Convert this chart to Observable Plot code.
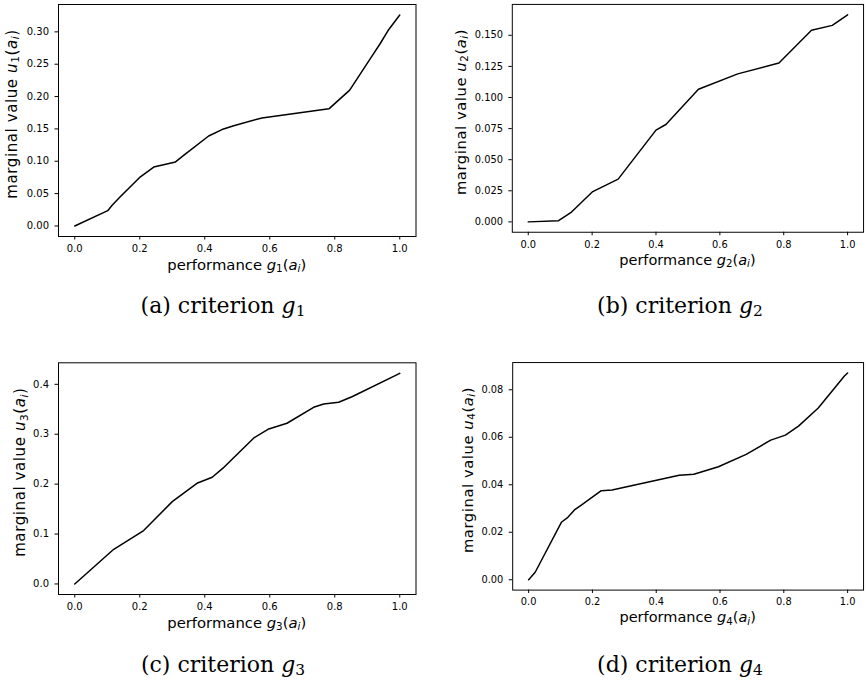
<!DOCTYPE html>
<html>
<head>
<meta charset="utf-8">
<script src="https://cdn.jsdelivr.net/npm/d3@7"></script>
<script src="https://cdn.jsdelivr.net/npm/@observablehq/plot@0.6"></script>
<style>
  html, body { margin: 0; padding: 0; background: #fff; }
  #root { position: relative; width: 867px; height: 680px; overflow: hidden; background: #fff; }
  .panel { position: absolute; }
  .caption { position: absolute; transform: translate(-50%, -50%); white-space: nowrap; line-height: 1;
             font-family: "DejaVu Serif", "Liberation Serif", serif; font-size: 22px; color: #000; }
  .caption i { font-style: italic; }
  .caption sub { font-size: 70%; vertical-align: -0.18em; line-height: 0; }
</style>
</head>
<body>
<div id="root"></div>
<script>
// ---- data ----
const g1x = [0, 0.1015, 0.115, 0.14, 0.202, 0.243, 0.31, 0.335, 0.412, 0.453, 0.489, 0.576, 0.782, 0.846, 0.915, 0.94, 0.964, 1.0];
const g1u = [0, 0.0236, 0.032, 0.045, 0.076, 0.091, 0.099, 0.109, 0.139, 0.149, 0.155, 0.167, 0.181, 0.210, 0.263, 0.282, 0.302, 0.326];

const g2x = [0, 0.095, 0.133, 0.202, 0.2815, 0.40, 0.431, 0.533, 0.656, 0.785, 0.887, 0.952, 1.0];
const g2u = [0, 0.001, 0.0074, 0.0244, 0.0344, 0.0738, 0.0783, 0.1066, 0.119, 0.1277, 0.154, 0.158, 0.1665];

const g3x = [0, 0.12, 0.212, 0.30, 0.376, 0.423, 0.456, 0.551, 0.597, 0.653, 0.735, 0.766, 0.812, 0.853, 1.0];
const g3u = [0, 0.0695, 0.107, 0.165, 0.2017, 0.2137, 0.232, 0.2925, 0.3106, 0.322, 0.354, 0.3607, 0.364, 0.375, 0.422];

const g4x = [0, 0.0205, 0.1026, 0.123, 0.1436, 0.164, 0.2277, 0.2615, 0.472, 0.518, 0.595, 0.682, 0.759, 0.805, 0.846, 0.908, 0.99, 1.0];
const g4u = [0, 0.00316, 0.0242, 0.0263, 0.0294, 0.0313, 0.0375, 0.0378, 0.044, 0.0444, 0.0476, 0.0528, 0.0588, 0.0609, 0.0647, 0.0723, 0.0858, 0.0871];

const xTicks = [0, 0.2, 0.4, 0.6, 0.8, 1.0];
const yTicks1 = [0, 0.05, 0.10, 0.15, 0.20, 0.25, 0.30];
const yTicks2 = [0, 0.025, 0.050, 0.075, 0.100, 0.125, 0.150];
const yTicks3 = [0, 0.1, 0.2, 0.3, 0.4];
const yTicks4 = [0, 0.02, 0.04, 0.06, 0.08];

const criteria = ["1", "2", "3", "4"];
const letters = ["a", "b", "c", "d"];

// ---- layout ----
const panels = [
  {xs: g1x, us: g1u, yTicks: yTicks1, fmt: ".2f", left: 0,   top: 0,   width: 430, mL: 58,   mR: 14.5, mT: 4,    mB: 54, yOff: 41.5, capX: 223, capY: 306},
  {xs: g2x, us: g2u, yTicks: yTicks2, fmt: ".3f", left: 430, top: 0,   width: 445, mL: 83.3, mR: 4,    mT: 4,    mB: 54, yOff: 47,   capX: 680, capY: 306},
  {xs: g3x, us: g3u, yTicks: yTicks3, fmt: ".1f", left: 0,   top: 350, width: 430, mL: 58,   mR: 14.5, mT: 12.3, mB: 46, yOff: 33,   capX: 223, capY: 665},
  {xs: g4x, us: g4u, yTicks: yTicks4, fmt: ".2f", left: 430, top: 350, width: 445, mL: 83.7, mR: 4,    mT: 12.3, mB: 46, yOff: 40,   capX: 680, capY: 665}
];
const H = 290;
const root = document.getElementById("root");

panels.forEach((p, i) => {
  const data = p.xs.map((x, k) => ({x, u: p.us[k]}));
  const umin = d3.min(p.us), umax = d3.max(p.us);
  const pad = 0.05 * (umax - umin);
  const chart = Plot.plot({
    width: p.width, height: H,
    marginLeft: p.mL, marginRight: p.mR, marginTop: p.mT, marginBottom: p.mB,
    x: {domain: [-0.05, 1.05]},
    y: {domain: [umin - pad, umax + pad]},
    style: {fontFamily: "DejaVu Sans", fontSize: "10px", color: "#000", background: "transparent", overflow: "visible"},
    marks: [
      Plot.line(data, {x: "x", y: "u", stroke: "#000", strokeWidth: 1.5}),
      Plot.frame({stroke: "#000", strokeWidth: 1}),
      Plot.axisX({ticks: xTicks, tickFormat: d3.format(".1f"), tickSize: 3.5, tickPadding: 5, label: null}),
      Plot.axisY({ticks: p.yTicks, tickFormat: d3.format(p.fmt), tickSize: 3.5, tickPadding: 6, label: null})
    ]
  });
  const wrap = document.createElement("div");
  wrap.className = "panel";
  wrap.style.left = p.left + "px";
  wrap.style.top = p.top + "px";
  wrap.appendChild(chart);
  root.appendChild(wrap);

  // axis labels with math-style italics and subscripts
  const svg = d3.select(chart);
  const fx0 = p.mL, fx1 = p.width - p.mR, fy0 = p.mT, fy1 = H - p.mB;
  const cx = (fx0 + fx1) / 2, cy = (fy0 + fy1) / 2;
  const n = criteria[i];

  const xl = svg.append("text")
    .attr("x", cx).attr("y", fy1 + 33.5)
    .attr("text-anchor", "middle")
    .attr("font-family", "DejaVu Sans").attr("font-size", 14.8).attr("fill", "#000");
  xl.append("tspan").text("performance ");
  xl.append("tspan").attr("font-style", "italic").text("g");
  xl.append("tspan").attr("font-size", 10.4).attr("dy", 2.5).text(n);
  xl.append("tspan").attr("dy", -2.5).text("(");
  xl.append("tspan").attr("font-style", "italic").text("a");
  xl.append("tspan").attr("font-style", "italic").attr("font-size", 10.4).attr("dy", 2.5).text("i");
  xl.append("tspan").attr("dy", -2.5).text(")");

  const yl = svg.append("text")
    .attr("transform", `translate(${fx0 - p.yOff},${cy - 6}) rotate(-90)`)
    .attr("text-anchor", "middle")
    .attr("letter-spacing", 0.6)
    .attr("font-family", "DejaVu Sans").attr("font-size", 15).attr("fill", "#000");
  yl.append("tspan").text("marginal value ");
  yl.append("tspan").attr("font-style", "italic").text("u");
  yl.append("tspan").attr("font-size", 10.5).attr("dy", 2.5).text(n);
  yl.append("tspan").attr("dy", -2.5).text("(");
  yl.append("tspan").attr("font-style", "italic").text("a");
  yl.append("tspan").attr("font-style", "italic").attr("font-size", 10.5).attr("dy", 2.5).text("i");
  yl.append("tspan").attr("dy", -2.5).text(")");

  // caption under the panel
  const cap = document.createElement("div");
  cap.className = "caption";
  cap.style.left = p.capX + "px";
  cap.style.top = p.capY + "px";
  cap.innerHTML = `(${letters[i]}) criterion <i>g</i><sub>${n}</sub>`;
  root.appendChild(cap);
});
</script>
</body>
</html>
